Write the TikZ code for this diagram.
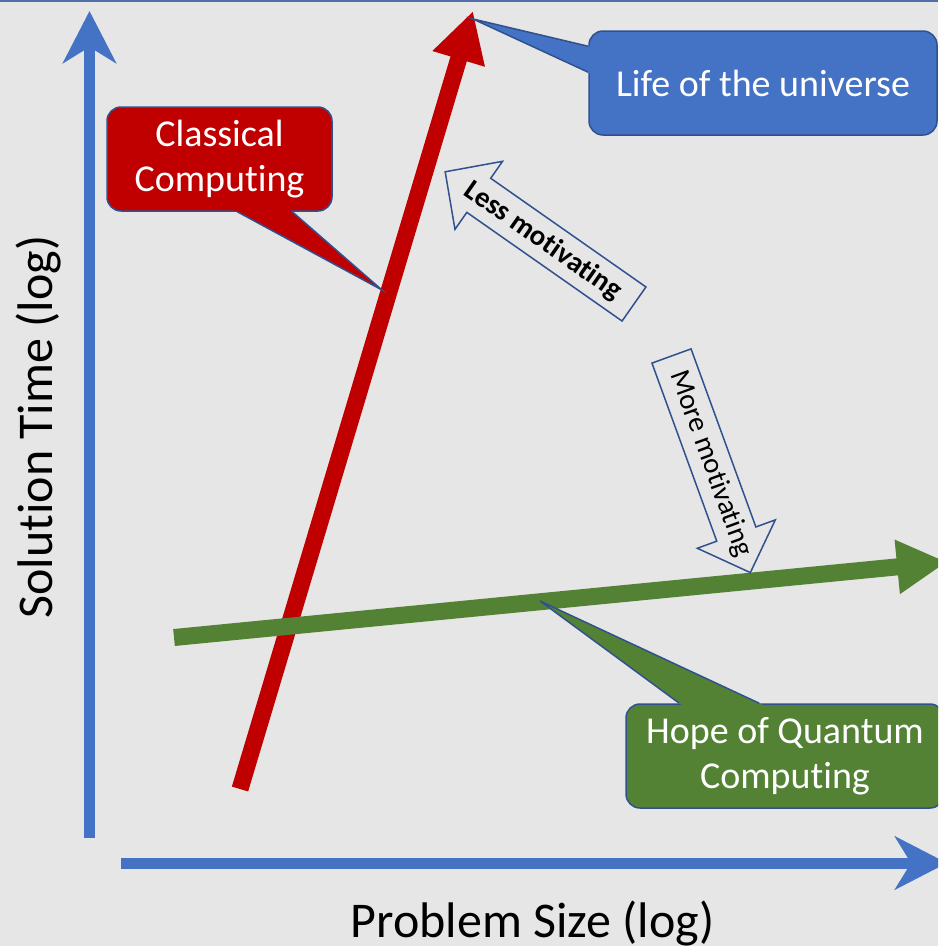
\documentclass[tikz,border=0pt]{standalone}
\usepackage{fontspec}
\setmainfont{Carlito}[Ligatures={NoCommon,NoRequired,NoContextual}]
\usetikzlibrary{arrows.meta,calc}
\definecolor{bg}{HTML}{E7E6E6}
\definecolor{axblue}{HTML}{4472C4}
\definecolor{cred}{HTML}{C00000}
\definecolor{cgreen}{HTML}{548235}
\definecolor{cbord}{HTML}{2F528F}
\definecolor{topline}{HTML}{4F6FA8}
\begin{document}
\begin{tikzpicture}[x=1pt,y=-1pt,
 axis/.style={axblue, line width=11pt, -{Stealth[length=52pt,width=53pt,inset=16pt]}},
 trend/.style={line width=17pt, -{Triangle[length=50pt,width=51pt]}},
 callbox/.style={draw=cbord, line width=1.5pt, rounded corners=14pt, text=white, font=\fontsize{38}{44.5}\selectfont, align=center, inner sep=0pt},
 pointer/.style={draw=cbord, line width=1.5pt, line join=miter},
 blockarrow/.style={draw=cbord, line width=1.5pt, fill=bg, line join=miter},
 axislabel/.style={font=\fontsize{50}{60}\selectfont, inner sep=0pt, anchor=base},
 motiv/.style={font=\fontsize{28.8}{34}\selectfont, inner sep=0pt}
]
\useasboundingbox (0,0) rectangle (938,946);
\clip (0,0) rectangle (938,946);
\fill[bg] (0,0) rectangle (938,946);
\draw[topline, line width=1.5pt] (0,0.75) -- (938,0.75);

% axes
\coordinate (yfoot) at (89.5,838);
\coordinate (ytop) at (89.5,11);
\draw[axis] (yfoot) -- (ytop);
\coordinate (xfoot) at (121,863);
\coordinate (xend) at (947,863);
\draw[axis] (xfoot) -- (xend);
\node[axislabel] (xlabel) at (532.5,937) {Problem Size (log)};
\node[axislabel, rotate=90] (ylabel) at (52,427) {Solution Time (log)};

% trend arrows
\coordinate (cstart) at (240,789);
\coordinate (cend) at (473,11);
\draw[trend, cred] (cstart) -- (cend);
\coordinate (qstart) at (174,637.5);
\coordinate (qend) at (947,562);
\draw[trend, cgreen] (qstart) -- (qend);

% callout: life of the universe
\node[callbox, fill=axblue, minimum width=348pt, minimum height=104pt] (life) at (763,83) {Life of the universe};
\coordinate (lb1) at ($(life.north west)+(0,16)$);
\coordinate (lb2) at ($(life.north west)+(0,42)$);
\coordinate (lifetip) at (473,19);
\fill[axblue] ($(lifetip)!1.05!(lb1)$) -- (lifetip) -- ($(lifetip)!1.05!(lb2)$) -- cycle;
\draw[pointer] (lb1) -- (lifetip) -- (lb2);

% callout: classical
\node[callbox, fill=cred, minimum width=225pt, minimum height=104pt] (classical) at (219.5,159) {\raisebox{-3pt}{Classical}\\\raisebox{-3pt}{Computing}};
\coordinate (cb1) at ($(classical.south west)+(131,0)$);
\coordinate (cb2) at ($(classical.south west)+(186,0)$);
\coordinate (ctip) at (382,290);
\fill[cred] ($(ctip)!1.04!(cb1)$) -- (ctip) -- ($(ctip)!1.04!(cb2)$) -- cycle;
\draw[pointer] (cb1) -- (ctip) -- (cb2);

% callout: quantum
\node[callbox, fill=cgreen, minimum width=318pt, minimum height=104pt] (hope) at (785,756) {\raisebox{-3pt}{Hope of Quantum}\\\raisebox{-3pt}{Computing}};
\coordinate (hb1) at ($(hope.north west)+(54,0)$);
\coordinate (hb2) at ($(hope.north west)+(134,0)$);
\coordinate (htip) at (540,601);
\fill[cgreen] ($(htip)!1.04!(hb1)$) -- (htip) -- ($(htip)!1.04!(hb2)$) -- cycle;
\draw[pointer] (hb1) -- (htip) -- (hb2);

% block arrows
\begin{scope}[shift={(634,304)}, rotate=145]
\draw[blockarrow] (0,-20.8) -- (189.5,-20.8) -- (189.5,-41.5) -- (230.5,0) -- (189.5,41.5) -- (189.5,20.8) -- (0,20.8) -- cycle;
\end{scope}
\node[motiv, font=\fontsize{28.8}{34}\selectfont\bfseries, rotate=-35] (less) at (543,241) {Less motivating};

\begin{scope}[shift={(671.5,356)}, rotate=-70]
\draw[blockarrow] (0,-20.8) -- (189.5,-20.8) -- (189.5,-41.5) -- (230.5,0) -- (189.5,41.5) -- (189.5,20.8) -- (0,20.8) -- cycle;
\end{scope}
\node[motiv, rotate=-70] (more) at (710.6,463.6) {More motivating};
\end{tikzpicture}
\end{document}
